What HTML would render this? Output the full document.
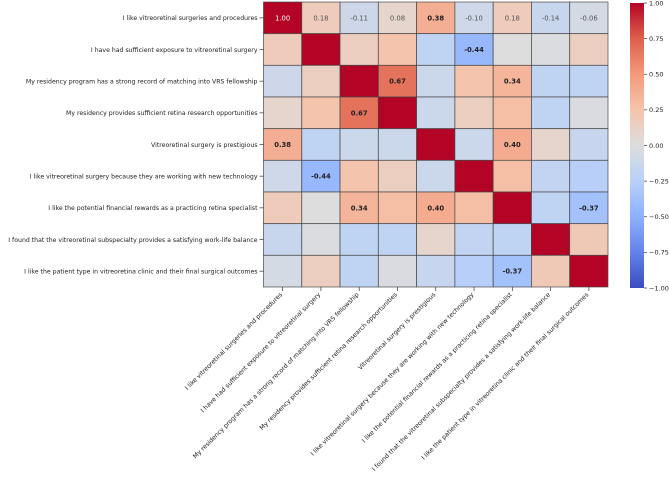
<!DOCTYPE html>
<html><head><meta charset="utf-8"><style>
body{margin:0;background:#fff;width:669px;height:480px;overflow:hidden}
svg text{font-family:"DejaVu Sans","Liberation Sans",sans-serif;}
</style></head><body>
<svg id="chart" width="669" height="480" xmlns="http://www.w3.org/2000/svg"></svg>
<script>
const labels = [
"I like vitreoretinal surgeries and procedures",
"I have had sufficient exposure to vitreoretinal surgery",
"My residency program has a strong record of matching into VRS fellowship",
"My residency provides sufficient retina research opportunities",
"Vitreoretinal surgery is prestigious",
"I like vitreoretinal surgery because they are working with new technology",
"I like the potential financial rewards as a practicing retina specialist",
"I found that the vitreoretinal subspecialty provides a satisfying work-life balance",
"I like the patient type in vitreoretina clinic and their final surgical outcomes"];
const row0 = [1.00, 0.18, -0.11, 0.08, 0.38, -0.10, 0.18, -0.14, -0.06];
const row1 = [0.18, 1.00, 0.15, 0.25, -0.20, -0.44, 0.00, -0.02, 0.15];
const row2 = [-0.11, 0.15, 1.00, 0.67, -0.12, 0.25, 0.34, -0.20, -0.20];
const row3 = [0.08, 0.25, 0.67, 1.00, -0.12, 0.15, 0.28, -0.20, -0.03];
const row4 = [0.38, -0.20, -0.12, -0.12, 1.00, -0.12, 0.40, 0.08, -0.15];
const row5 = [-0.10, -0.44, 0.25, 0.15, -0.12, 1.00, 0.28, -0.18, -0.25];
const row6 = [0.18, 0.00, 0.34, 0.28, 0.40, 0.28, 1.00, -0.20, -0.37];
const row7 = [-0.14, -0.02, -0.20, -0.20, 0.08, -0.18, -0.20, 1.00, 0.20];
const row8 = [-0.06, 0.15, -0.20, -0.03, -0.15, -0.25, -0.37, 0.20, 1.00];
const matrix = [row0,row1,row2,row3,row4,row5,row6,row7,row8];
const cbTicks = [1.00, 0.75, 0.50, 0.25, 0.00, -0.25, -0.50, -0.75, -1.00];

const NS="http://www.w3.org/2000/svg";
const svg=document.getElementById('chart');
const X0=263.5, X1=608, Y0=2, Y1=287;
const n=labels.length, cw=(X1-X0)/n, ch=(Y1-Y0)/n;
const xPos=j=>X0+j*cw, yPos=i=>Y0+i*ch;
const stops=[[-1,[59,76,192]],[-0.75,[98,130,234]],[-0.5,[141,176,254]],[-0.25,[184,208,249]],[0,[221,221,221]],[0.25,[245,196,172]],[0.5,[244,154,123]],[0.75,[222,96,77]],[1,[180,4,38]]];
function cmap(v){v=Math.max(-1,Math.min(1,v));for(let k=0;k<stops.length-1;k++){const a=stops[k],b=stops[k+1];if(v<=b[0]){const t=(v-a[0])/(b[0]-a[0]);const c=a[1].map((x,i)=>Math.round(x+(b[1][i]-x)*t));return `rgb(${c})`;}}return 'rgb(180,4,38)';}
function el(tag,attrs,txt){const e=document.createElementNS(NS,tag);for(const k in attrs)e.setAttribute(k,attrs[k]);if(txt!==undefined)e.textContent=txt;svg.appendChild(e);return e;}

for(let i=0;i<n;i++)for(let j=0;j<n;j++){
  const v=matrix[i][j];
  const r=el('rect',{x:xPos(j),y:yPos(i),width:cw,height:ch,fill:cmap(v),stroke:'#444','stroke-width':0.8,'stroke-opacity':0.85});
  
  
  let show=false,bold=false,col='#222';
  if(i===0){show=true;col=(j===0)?'#fff':'#555';bold=Math.abs(v)>=0.3&&j!==0;if(bold)col='#222';}
  else if(i!==j&&Math.abs(v)>=0.3){show=true;bold=true;}
  if(show){
    const t=el('text',{x:xPos(j)+cw/2,y:yPos(i)+ch/2+2.5,'text-anchor':'middle','font-size':6.8,fill:col,'font-weight':bold?'bold':'normal'},v.toFixed(2));
    
    
  }
}
for(let i=0;i<n;i++){
  el('line',{x1:X0-4,x2:X0,y1:yPos(i)+ch/2,y2:yPos(i)+ch/2,stroke:'#333','stroke-width':0.7});
  const t=el('text',{x:X0-6,y:yPos(i)+ch/2+2.3,'text-anchor':'end','font-size':6.2,fill:'#222'},labels[i]);
  
  
  const cx=xPos(i)+cw/2;
  el('line',{x1:cx,x2:cx,y1:Y1,y2:Y1+4,stroke:'#333','stroke-width':0.7});
  const tx=el('text',{x:cx,y:Y1+8,'text-anchor':'end','font-size':6.2,fill:'#222',transform:`rotate(-45 ${cx} ${Y1+8})`},labels[i]);
  
  
}
const CX=630,CW=14,CY0=3,CY1=288;
const defs=el('defs',{});
const g=document.createElementNS(NS,'linearGradient');g.setAttribute('id','cb');g.setAttribute('x1','0');g.setAttribute('y1','1');g.setAttribute('x2','0');g.setAttribute('y2','0');defs.appendChild(g);
stops.forEach(s=>{const st=document.createElementNS(NS,'stop');st.setAttribute('offset',((s[0]+1)/2));st.setAttribute('stop-color',`rgb(${s[1]})`);g.appendChild(st);});
const cb=el('rect',{x:CX,y:CY0,width:CW,height:CY1-CY0,fill:'url(#cb)'});


const cy=v=>CY1-(v+1)/2*(CY1-CY0);
cbTicks.forEach(v=>{
  el('line',{x1:CX+CW,x2:CX+CW+3,y1:cy(v),y2:cy(v),stroke:'#333','stroke-width':0.7});
  const t=el('text',{x:CX+CW+5,y:cy(v)+2.3,'font-size':6.5,fill:'#222'},(v<0?'\u2212':'')+Math.abs(v).toFixed(2));
  
  
});
</script>
</body></html>
